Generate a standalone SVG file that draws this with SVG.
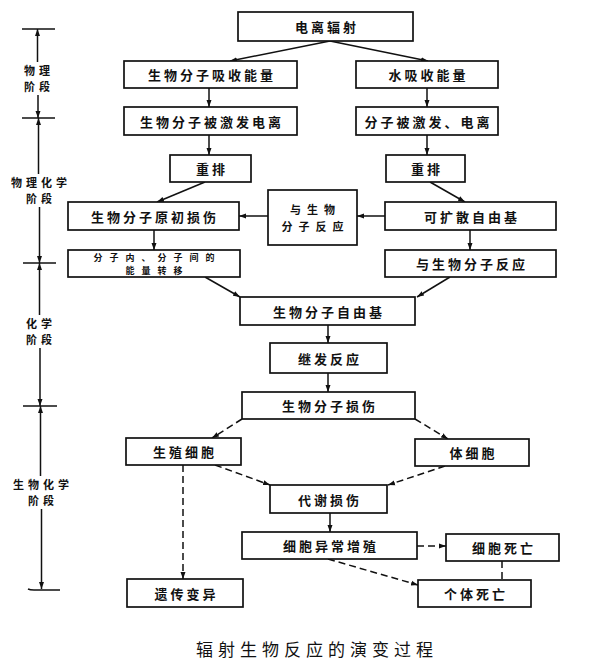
<svg xmlns="http://www.w3.org/2000/svg" width="589" height="662" viewBox="0 0 589 662">
<style>
.b{fill:#fff;stroke:#111;stroke-width:1.7}
.t{font-family:"Noto Sans CJK SC","Noto Sans",sans-serif;font-size:13px;font-weight:700;letter-spacing:3px;text-anchor:middle;dominant-baseline:central;fill:#111}
.s{font-size:9px;letter-spacing:7px}
.m{font-size:11px;letter-spacing:6px}
.ax{font-family:"Noto Sans CJK SC","Noto Sans",sans-serif;font-size:11px;font-weight:700;letter-spacing:4px;text-anchor:middle;fill:#111}
.c{stroke:#111;stroke-width:1.5;fill:none}
.a{marker-end:url(#ah)}
.d{stroke-dasharray:7 4}
.cap{font-family:"Noto Sans CJK SC","Noto Sans",sans-serif;font-size:17px;letter-spacing:5px;text-anchor:middle;fill:#111}
</style>
<defs>
<marker id="ah" markerUnits="userSpaceOnUse" markerWidth="8" markerHeight="6" refX="7" refY="3" orient="auto">
<path d="M0,0.5 L7,3 L0,5.5 z" fill="#111"/>
</marker>
</defs>
<rect width="589" height="662" fill="#fff"/>
<g id="axis">
<g class="c">
<line x1="22" y1="29" x2="55" y2="29"/>
<line x1="22" y1="118" x2="55" y2="118"/>
<line x1="23" y1="263" x2="56" y2="263"/>
<line x1="23" y1="406" x2="57" y2="406"/>
<path d="M28,589 Q30,590 34,590 L60,590"/>
<line class="a" x1="37.5" y1="62" x2="37.5" y2="29"/>
<line class="a" x1="38" y1="95" x2="38" y2="118"/>
<line class="a" x1="38.5" y1="174" x2="38.5" y2="118"/>
<line class="a" x1="39.5" y1="207" x2="39.5" y2="263"/>
<line class="a" x1="39.5" y1="315" x2="39.5" y2="263"/>
<line class="a" x1="40" y1="348" x2="40" y2="406"/>
<line class="a" x1="40.5" y1="476" x2="40.5" y2="406"/>
<line class="a" x1="41.5" y1="509" x2="41.5" y2="589"/>
</g>
<text class="ax" x="39" y="75">物理</text>
<text class="ax" x="39" y="91">阶段</text>
<text class="ax" x="41" y="187">物理化学</text>
<text class="ax" x="41" y="203">阶段</text>
<text class="ax" x="41" y="328">化学</text>
<text class="ax" x="41" y="344">阶段</text>
<text class="ax" x="43" y="489">生物化学</text>
<text class="ax" x="43" y="505">阶段</text>
</g>
<g id="connectors" class="c">
<line class="a" x1="330" y1="41" x2="230" y2="61"/>
<line class="a" x1="330" y1="41" x2="428" y2="61"/>
<line class="a" x1="209" y1="88" x2="209" y2="107"/>
<line class="a" x1="427" y1="88" x2="427" y2="107"/>
<line class="a" x1="209" y1="135" x2="209" y2="155"/>
<line class="a" x1="427" y1="135" x2="427" y2="155"/>
<line class="a" x1="205" y1="182" x2="157" y2="202"/>
<line class="a" x1="430" y1="182" x2="465" y2="202"/>
<line class="a" x1="268" y1="216" x2="239" y2="216"/>
<line class="a" x1="385" y1="216" x2="357" y2="216"/>
<line class="a" x1="154" y1="230" x2="154" y2="250"/>
<line class="a" x1="470" y1="230" x2="470" y2="250"/>
<line class="a" x1="205" y1="277" x2="240" y2="297"/>
<line class="a" x1="450" y1="277" x2="417" y2="297"/>
<line class="a" x1="328" y1="325" x2="328" y2="343"/>
<line class="a" x1="328" y1="373" x2="328" y2="392"/>
<line class="a d" x1="242" y1="419" x2="212" y2="438"/>
<line class="a d" x1="415" y1="419" x2="448" y2="439"/>
<line class="a d" x1="215" y1="465" x2="270" y2="485"/>
<line class="a d" x1="445" y1="466" x2="388" y2="485"/>
<line class="a d" x1="183" y1="465" x2="183" y2="579"/>
<line class="a" x1="330" y1="513" x2="330" y2="532"/>
<line class="a d" x1="417" y1="546" x2="446" y2="546"/>
<line class="a d" x1="328" y1="559" x2="418" y2="585"/>
<line class="d" x1="502" y1="561" x2="502" y2="580"/>
</g>
<g id="n1"><rect class="b" x="238" y="12" width="175" height="29"/><text class="t" x="327" y="26.5">电离辐射</text></g>
<g id="n2"><rect class="b" x="124" y="61" width="173" height="27"/><text class="t" x="212" y="74.5">生物分子吸收能量</text></g>
<g id="n3"><rect class="b" x="356" y="61" width="142" height="27"/><text class="t" x="428.5" y="74.5">水吸收能量</text></g>
<g id="n4"><rect class="b" x="124" y="107" width="173" height="28"/><text class="t" x="212" y="121">生物分子被激发电离</text></g>
<g id="n5"><rect class="b" x="356" y="107" width="142" height="28"/><text class="t" x="428.5" y="121">分子被激发、电离</text></g>
<g id="n6"><rect class="b" x="170" y="155" width="81" height="27"/><text class="t" x="212" y="168.5">重排</text></g>
<g id="n7"><rect class="b" x="386" y="155" width="79" height="27"/><text class="t" x="427" y="168.5">重排</text></g>
<g id="n8"><rect class="b" x="68" y="202" width="171" height="28"/><text class="t" x="155" y="216">生物分子原初损伤</text></g>
<g id="n9"><rect class="b" x="268" y="190" width="89" height="55"/><text class="t m" x="315.5" y="208.5">与生物</text><text class="t m" x="315.5" y="225.5">分子反应</text></g>
<g id="n10"><rect class="b" x="385" y="202" width="171" height="28"/><text class="t" x="472" y="216">可扩散自由基</text></g>
<g id="n11"><rect class="b" x="68" y="250" width="172" height="27"/><text class="t s" x="157.5" y="257">分子内、分子间的</text><text class="t s" x="157.5" y="270.5">能量转移</text></g>
<g id="n12"><rect class="b" x="385" y="250" width="171" height="27"/><text class="t" x="472" y="263.5">与生物分子反应</text></g>
<g id="n13"><rect class="b" x="240" y="297" width="175" height="28"/><text class="t" x="329" y="311">生物分子自由基</text></g>
<g id="n14"><rect class="b" x="270" y="343" width="117" height="30"/><text class="t" x="330" y="358">继发反应</text></g>
<g id="n15"><rect class="b" x="242" y="392" width="173" height="27"/><text class="t" x="330" y="405.5">生物分子损伤</text></g>
<g id="n16"><rect class="b" x="126" y="438" width="115" height="27"/><text class="t" x="185" y="451.5">生殖细胞</text></g>
<g id="n17"><rect class="b" x="415" y="439" width="114" height="27"/><text class="t" x="473.5" y="452.5">体细胞</text></g>
<g id="n18"><rect class="b" x="270" y="485" width="117" height="28"/><text class="t" x="330" y="499">代谢损伤</text></g>
<g id="n19"><rect class="b" x="242" y="532" width="175" height="27"/><text class="t" x="331" y="545.5">细胞异常增殖</text></g>
<g id="n20"><rect class="b" x="446" y="534" width="113" height="27"/><text class="t" x="504" y="547.5">细胞死亡</text></g>
<g id="n21"><rect class="b" x="127" y="579" width="116" height="28"/><text class="t" x="186.5" y="593">遗传变异</text></g>
<g id="n22"><rect class="b" x="418" y="580" width="113" height="27"/><text class="t" x="476" y="593.5">个体死亡</text></g>
<text class="cap" x="317" y="656">辐射生物反应的演变过程</text>
</svg>
